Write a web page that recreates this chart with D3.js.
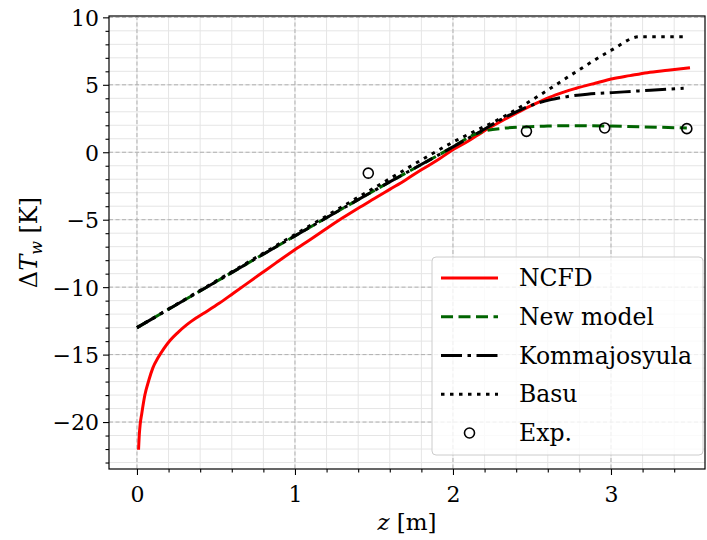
<!DOCTYPE html>
<html><head><meta charset="utf-8">
<script src="https://cdn.jsdelivr.net/npm/d3@7"></script>
<style>body{margin:0;background:#fff}svg{display:block}</style>
</head><body><svg id="c" width="707" height="540"></svg>
<script>
// ---- data ----
const ncfdX = [0.01,0.015,0.02,0.03,0.05,0.075,0.1,0.135,0.17,0.209,0.26,0.314,0.38,0.441,0.52,0.61,0.7,0.778,0.88,0.99,1.1,1.2,1.3,1.4,1.5,1.6,1.7,1.8,1.9,1.98,2.1,2.19,2.32,2.45,2.55,2.65,2.78,2.9,3.01,3.12,3.23,3.36,3.5];
const ncfdY = [-22.05,-20.9,-20.2,-19.4,-18.0,-16.9,-16.0,-15.2,-14.55,-13.95,-13.35,-12.8,-12.25,-11.8,-11.2,-10.45,-9.7,-9.05,-8.2,-7.3,-6.45,-5.65,-4.88,-4.15,-3.45,-2.75,-2.05,-1.3,-0.6,0.04,0.85,1.53,2.39,3.2,3.75,4.25,4.74,5.12,5.45,5.68,5.9,6.08,6.27];
const newX = [0,0.5,1,1.5,2,2.13,2.21,2.32,2.45,2.6,2.78,2.95,3.2,3.48];
const newY = [-13,-9.6,-6.2,-2.85,0.4,1.28,1.6,1.78,1.88,1.94,1.97,1.95,1.88,1.8];
const kommaX = [0,0.5,1,1.5,2,2.19,2.3,2.4,2.5,2.62,2.72,2.85,3.01,3.25,3.46];
const kommaY = [-13,-9.6,-6.2,-2.85,0.4,1.65,2.4,3.0,3.5,3.9,4.12,4.3,4.42,4.6,4.74];
const basuX = [0,0.5,1,1.5,2,2.34,2.55,2.78,3.0,3.18,3.47];
const basuY = [-13,-9.55,-6.1,-2.65,0.75,2.76,4.24,5.97,7.55,8.56,8.56];
const expX = [1.464,2.465,2.96,3.48];
const expY = [-1.55,1.55,1.8,1.75];
const xTicks = [0,1,2,3];
const yTicks = [-20,-15,-10,-5,0,5,10];
const legendLabels = ["NCFD","New model","Kommajosyula","Basu","Exp."];

// ---- layout ----
const FONT = "'DejaVu Serif'";
const L=109, R=705, T=16, B=469;
const x = d3.scaleLinear().domain([-0.177,3.595]).range([L,R]);
const y = d3.scaleLinear().domain([-23.48,10.1]).range([B,T]);
const svg = d3.select("#c");
const g = svg.append("g");

// minor grid
const xMinor = d3.range(-0.2,3.61,0.2).filter(v=>x(v)>=L&&x(v)<=R);
const yMinor = d3.range(-23,10.01,1);
g.append("g").selectAll("line").data(xMinor).join("line")
 .attr("x1",d=>x(d)).attr("x2",d=>x(d)).attr("y1",T).attr("y2",B)
 .attr("stroke","#e5e5e5").attr("stroke-width",1);
g.append("g").selectAll("line").data(yMinor).join("line")
 .attr("y1",d=>y(d)).attr("y2",d=>y(d)).attr("x1",L).attr("x2",R)
 .attr("stroke","#e5e5e5").attr("stroke-width",1);
// major grid
g.append("g").selectAll("line").data(xTicks).join("line")
 .attr("x1",d=>x(d)).attr("x2",d=>x(d)).attr("y1",T).attr("y2",B)
 .attr("stroke","#b0b0b0").attr("stroke-width",1).attr("stroke-dasharray","4,2.5");
g.append("g").selectAll("line").data(yTicks).join("line")
 .attr("y1",d=>y(d)).attr("y2",d=>y(d)).attr("x1",L).attr("x2",R)
 .attr("stroke","#b0b0b0").attr("stroke-width",1).attr("stroke-dasharray","4,2.5");

// lines
const line = (xs,ys)=>d3.line().curve(d3.curveMonotoneX).x((d,i)=>x(xs[i])).y((d,i)=>y(ys[i]))(xs);
svg.append("clipPath").attr("id","pc").append("rect").attr("x",L).attr("y",T).attr("width",R-L).attr("height",B-T);
const pl = g.append("g").attr("clip-path","url(#pc)");
const lw=3;
const styles = [
 {xs:ncfdX,ys:ncfdY,c:"#ff0000",dash:null},
 {xs:newX,ys:newY,c:"#006400",dash:"12,5.5"},
 {xs:kommaX,ys:kommaY,c:"#000",dash:"21,5.5,3.5,5.5"},
 {xs:basuX,ys:basuY,c:"#000",dash:"3.5,5.5"}
];
styles.forEach(s=>{
 pl.append("path").attr("d",line(s.xs,s.ys)).attr("fill","none")
  .attr("stroke",s.c).attr("stroke-width",lw).attr("stroke-dasharray",s.dash)
  .attr("stroke-linejoin","round");
});
pl.append("g").selectAll("circle").data(expX).join("circle")
 .attr("cx",(d)=>x(d)).attr("cy",(d,i)=>y(expY[i])).attr("r",5)
 .attr("fill","none").attr("stroke","#000").attr("stroke-width",1.6);

// frame
g.append("rect").attr("x",L).attr("y",T).attr("width",R-L).attr("height",B-T)
 .attr("fill","none").attr("stroke","#000").attr("stroke-width",1.2);

// axes
const xAx = g.append("g").attr("transform",`translate(0,${B})`)
 .call(d3.axisBottom(x).tickValues(xTicks).tickSize(6).tickSizeOuter(0).tickFormat(d3.format("d")));
const xAxMin = g.append("g").attr("transform",`translate(0,${B})`)
 .call(d3.axisBottom(x).tickValues(xMinor.filter(v=>Math.abs(v-Math.round(v))>1e-6)).tickSize(3.5).tickSizeOuter(0).tickFormat(""));
const fmtY = d=> d<0 ? "\u2212"+Math.abs(d) : String(d);
const yAx = g.append("g").attr("transform",`translate(${L},0)`)
 .call(d3.axisLeft(y).tickValues(yTicks).tickSize(6).tickSizeOuter(0).tickFormat(fmtY));
const yAxMin = g.append("g").attr("transform",`translate(${L},0)`)
 .call(d3.axisLeft(y).tickValues(yMinor.filter(v=>v%5!==0)).tickSize(3.5).tickSizeOuter(0).tickFormat(""));
[xAx,xAxMin,yAx,yAxMin].forEach(a=>{a.attr("font-family",FONT).attr("font-size",22);a.select(".domain").remove();a.selectAll("line").attr("stroke","#000").attr("stroke-width",1.1);});
xAx.selectAll("text").attr("fill","#000").attr("dy",null).attr("y",33);
yAx.selectAll("text").attr("fill","#000").attr("dy","0.36em").attr("x",-10);

// axis labels
const xl = svg.append("text").attr("x",(L+R)/2).attr("y",530).attr("text-anchor","middle").attr("font-size",23).attr("font-family",FONT);
xl.append("tspan").attr("font-style","italic").text("z");
xl.append("tspan").text(" [m]");
const yl = svg.append("text").attr("transform",`translate(37,${(T+B)/2}) rotate(-90)`).attr("text-anchor","middle").attr("font-size",24).attr("font-family",FONT);
yl.append("tspan").text("Δ");
yl.append("tspan").attr("font-style","italic").text("T");
yl.append("tspan").attr("font-style","italic").attr("font-size",16).attr("dy",5).text("w");
yl.append("tspan").attr("dy",-5).text(" [K]");

// legend
const lg = svg.append("g");
lg.append("rect").attr("x",432).attr("y",257).attr("width",271).attr("height",198).attr("rx",4)
 .attr("fill","#fff").attr("fill-opacity",0.8).attr("stroke","#cccccc").attr("stroke-width",1);
const legY = d3.scaleLinear().domain([0,4]).range([278,433]);
legendLabels.forEach((lab,i)=>{
 const yy = legY(i);
 if(i<4){
  const s = styles[i];
  lg.append("line").attr("x1",441).attr("x2",498).attr("y1",yy).attr("y2",yy)
   .attr("stroke",s.c).attr("stroke-width",lw).attr("stroke-dasharray",s.dash);
 } else {
  lg.append("circle").attr("cx",469.5).attr("cy",yy).attr("r",5).attr("fill","none").attr("stroke","#000").attr("stroke-width",1.6);
 }
 lg.append("text").attr("x",519).attr("y",yy+8).attr("font-size",23.5).attr("font-family",FONT).text(lab);
});
</script>
</body></html>
